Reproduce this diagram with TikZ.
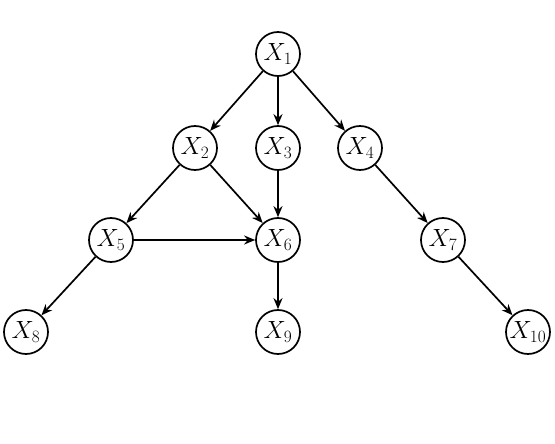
\documentclass[tikz,border=0pt]{standalone}
\usetikzlibrary{arrows.meta}
\begin{document}
\begin{tikzpicture}[x=1pt,y=-1pt,
  var/.style={circle,draw,line width=1.7pt,minimum size=44pt,inner sep=0pt,font=\fontsize{24}{28}\selectfont},
  edge/.style={line width=1.7pt,-{Stealth[length=11pt,width=9pt]}}]
\useasboundingbox (0,0) rectangle (555,444);
\node[var] (x1) at (278,54) {$X_1$};
\node[var] (x2) at (195,148) {$X_2$};
\node[var] (x3) at (278,148) {$X_3$};
\node[var] (x4) at (360,148) {$X_4$};
\node[var] (x5) at (111,240) {$X_5$};
\node[var] (x6) at (278,240) {$X_6$};
\node[var] (x7) at (443,240) {$X_7$};
\node[var] (x8) at (26,332) {$X_8$};
\node[var] (x9) at (278,332) {$X_9$};
\node[var] (x10) at (528,332) {$X_{10}$};
\draw[edge] (x1) -- (x2);
\draw[edge] (x1) -- (x3);
\draw[edge] (x1) -- (x4);
\draw[edge] (x2) -- (x5);
\draw[edge] (x2) -- (x6);
\draw[edge] (x3) -- (x6);
\draw[edge] (x4) -- (x7);
\draw[edge] (x5) -- (x6);
\draw[edge] (x5) -- (x8);
\draw[edge] (x6) -- (x9);
\draw[edge] (x7) -- (x10);
\end{tikzpicture}
\end{document}
